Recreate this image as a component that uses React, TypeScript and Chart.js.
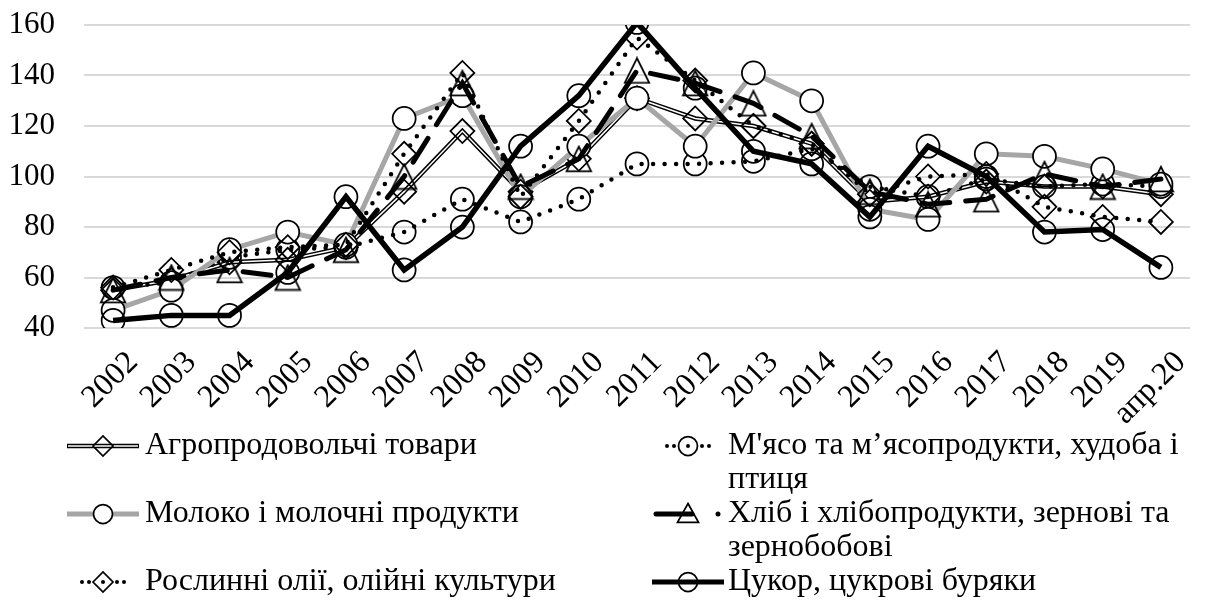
import React, { useEffect, useRef } from "react";
import { Chart, registerables } from "chart.js";

Chart.register(...registerables);

const categories = [
  "2002", "2003", "2004", "2005", "2006", "2007", "2008", "2009", "2010",
  "2011", "2012", "2013", "2014", "2015", "2016", "2017", "2018", "2019", "апр.20",
];

const seriesNames = [
  "Агропродовольчі товари",
  "М'ясо та м’ясопродукти, худоба і птиця",
  "Молоко і молочні продукти",
  "Хліб і хлібопродукти, зернові та зернобобові",
  "Рослинні олії, олійні культури",
  "Цукор, цукрові буряки",
];

const agroValues = [55, 59, 66, 67, 72, 94, 118, 94, 107, 131, 123, 120, 113, 90, 92, 98, 96, 96, 93];
const meatValues = [56, 58, 68, 71, 72, 78, 91, 82, 91, 105, 105, 106, 111, 96, 92, 99, 96, 97, 96];
const milkValues = [47, 55, 71, 78, 73, 123, 132, 92, 112, 131, 112, 141, 130, 87, 83, 109, 108, 103, 97];
const grainValues = [55, 60, 63, 60, 71, 100, 137, 96, 107, 142, 137, 129, 116, 94, 89, 91, 101, 96, 99];
const oilValues = [56, 63, 70, 72, 73, 109, 141, 92, 122, 155, 138, 120, 113, 93, 100, 101, 88, 84, 82];
const sugarValues = [43, 45, 45, 62, 92, 63, 80, 112, 132, 161, 135, 110, 105, 84, 112, 100, 78, 79, 64];

const yMin = 40;
const yMax = 160;
const yStep = 20;

const FONT = '"Liberation Serif", "Times New Roman", Times, serif';
const W = 1208;
const H = 611;
const LEGEND_FONT = 32;

function makeTriangle(size: number, lw: number): HTMLCanvasElement {
  const c = document.createElement("canvas");
  const s = Math.ceil(size + lw * 2);
  c.width = s;
  c.height = s;
  const g = c.getContext("2d")!;
  g.strokeStyle = "#000";
  g.lineWidth = lw;
  g.lineJoin = "miter";
  const p = lw;
  g.beginPath();
  g.moveTo(s / 2, p);
  g.lineTo(s - p, s - p);
  g.lineTo(p, s - p);
  g.closePath();
  g.stroke();
  return c;
}

function wrapText(ctx: CanvasRenderingContext2D, text: string, maxW: number): string[] {
  const words = text.split(" ");
  const lines: string[] = [];
  let cur = "";
  for (const w of words) {
    const test = cur ? cur + " " + w : w;
    if (ctx.measureText(test).width > maxW && cur) {
      lines.push(cur);
      cur = w;
    } else {
      cur = test;
    }
  }
  if (cur) lines.push(cur);
  return lines;
}

function circle(ctx: CanvasRenderingContext2D, x: number, y: number, r: number, fill: string | null) {
  ctx.beginPath();
  ctx.arc(x, y, r, 0, Math.PI * 2);
  if (fill) {
    ctx.fillStyle = fill;
    ctx.fill();
  }
  ctx.strokeStyle = "#000";
  ctx.lineWidth = 1.75;
  ctx.stroke();
}

function diamond(ctx: CanvasRenderingContext2D, x: number, y: number, r: number) {
  ctx.beginPath();
  ctx.moveTo(x - r, y);
  ctx.lineTo(x, y - r);
  ctx.lineTo(x + r, y);
  ctx.lineTo(x, y + r);
  ctx.closePath();
  ctx.strokeStyle = "#000";
  ctx.lineWidth = 1.75;
  ctx.stroke();
}

function dot(ctx: CanvasRenderingContext2D, x: number, y: number, r: number) {
  ctx.beginPath();
  ctx.arc(x, y, r, 0, Math.PI * 2);
  ctx.fillStyle = "#000";
  ctx.fill();
}

function seg(ctx: CanvasRenderingContext2D, x0: number, x1: number, y: number, color: string, w: number, cap: CanvasLineCap = "butt") {
  ctx.beginPath();
  ctx.moveTo(x0, y);
  ctx.lineTo(x1, y);
  ctx.strokeStyle = color;
  ctx.lineWidth = w;
  ctx.lineCap = cap;
  ctx.stroke();
}

function drawSymbol(ctx: CanvasRenderingContext2D, idx: number, cx: number, cy: number) {
  const half = 36;
  ctx.save();
  switch (idx) {
    case 0:
      seg(ctx, cx - half, cx + half, cy, "#000", 4.5);
      seg(ctx, cx - half + 1, cx + half - 1, cy, "#fff", 1.5);
      diamond(ctx, cx, cy, 10);
      break;
    case 1:
      [-21, -14, 14, 21].forEach((d) => dot(ctx, cx + d, cy, 2));
      dot(ctx, cx, cy, 2);
      circle(ctx, cx, cy, 9.5, null);
      break;
    case 2:
      seg(ctx, cx - half, cx + half, cy, "#a6a6a6", 5);
      circle(ctx, cx, cy, 9.5, "#fff");
      break;
    case 3: {
      seg(ctx, cx - 32, cx + 4, cy, "#000", 5, "round");
      const t = 10.5;
      ctx.beginPath();
      ctx.moveTo(cx, cy - t);
      ctx.lineTo(cx + t, cy + t * 0.8);
      ctx.lineTo(cx - t, cy + t * 0.8);
      ctx.closePath();
      ctx.strokeStyle = "#000";
      ctx.lineWidth = 1.75;
      ctx.stroke();
      dot(ctx, cx + 30, cy, 2.5);
      break;
    }
    case 4:
      [-21, -14, 14, 21].forEach((d) => dot(ctx, cx + d, cy, 2));
      dot(ctx, cx, cy, 2);
      diamond(ctx, cx, cy, 10);
      break;
    case 5:
      seg(ctx, cx - half, cx + half, cy, "#000", 5);
      circle(ctx, cx, cy, 9.5, null);
      break;
  }
  ctx.restore();
}

const legendPlugin = {
  id: "customLegend",
  afterDraw(chart: any) {
    const ctx: CanvasRenderingContext2D = chart.ctx;
    ctx.save();
    const font = `${LEGEND_FONT}px ${FONT}`;
    ctx.textBaseline = "middle";
    ctx.textAlign = "left";
    const lineH = 34;
    const colCenters = [103, 688];
    const textGap = 40;
    let rowY = 446;
    for (let r = 0; r < 3; r++) {
      let maxLines = 1;
      for (let c = 0; c < 2; c++) {
        const idx = r * 2 + c;
        const cx = colCenters[c];
        const tx = cx + (c === 0 ? 42 : textGap);
        const limit = c === 0 ? colCenters[1] - 40 - tx : W - tx - 2;
        ctx.font = font;
        const lines = wrapText(ctx, seriesNames[idx], limit);
        drawSymbol(ctx, idx, cx, rowY);
        ctx.fillStyle = "#000";
        ctx.font = font;
        lines.forEach((l, i) => ctx.fillText(l, tx, rowY + i * lineH));
        maxLines = Math.max(maxLines, lines.length);
      }
      rowY += maxLines * lineH;
    }
    ctx.restore();
  },
};

export default function App() {
  const ref = useRef<HTMLCanvasElement | null>(null);

  useEffect(() => {
    if (!ref.current) return;
    const tri = makeTriangle(24, 1.75);
    const dotted = [0, 11.5];
    const chart = new Chart(ref.current, {
      type: "line",
      data: {
        labels: categories,
        datasets: [
          {
            label: seriesNames[0] + " (outline)",
            data: agroValues,
            borderColor: "#000",
            borderWidth: 4.5,
            pointRadius: 0,
            tension: 0,
            order: 6,
          },
          {
            label: seriesNames[0],
            data: agroValues,
            borderColor: "#fff",
            borderWidth: 1.5,
            pointStyle: "rectRot",
            pointRadius: 12,
            pointBorderColor: "#000",
            pointBackgroundColor: "rgba(0,0,0,0)",
            pointBorderWidth: 1.75,
            tension: 0,
            order: 5,
          },
          {
            label: seriesNames[1],
            data: meatValues,
            borderColor: "#000",
            borderWidth: 4.5,
            borderDash: dotted,
            borderCapStyle: "round",
            pointStyle: "circle",
            pointRadius: 11.5,
            pointBorderColor: "#000",
            pointBackgroundColor: "rgba(0,0,0,0)",
            pointBorderWidth: 1.75,
            tension: 0,
            order: 4,
          },
          {
            label: seriesNames[2],
            data: milkValues,
            borderColor: "#a6a6a6",
            borderWidth: 5,
            pointStyle: "circle",
            pointRadius: 11.5,
            pointBorderColor: "#000",
            pointBackgroundColor: "#fff",
            pointBorderWidth: 1.75,
            tension: 0,
            order: 3,
          },
          {
            label: seriesNames[3],
            data: grainValues,
            borderColor: "#000",
            borderWidth: 5,
            borderDash: [28, 16],
            borderCapStyle: "round",
            pointStyle: tri,
            pointRadius: 13,
            tension: 0,
            order: 2,
          },
          {
            label: seriesNames[4],
            data: oilValues,
            borderColor: "#000",
            borderWidth: 4.5,
            borderDash: dotted,
            borderCapStyle: "round",
            pointStyle: "rectRot",
            pointRadius: 12,
            pointBorderColor: "#000",
            pointBackgroundColor: "rgba(0,0,0,0)",
            pointBorderWidth: 1.75,
            tension: 0,
            order: 1,
          },
          {
            label: seriesNames[5],
            data: sugarValues,
            borderColor: "#000",
            borderWidth: 5.5,
            borderJoinStyle: "miter",
            pointStyle: "circle",
            pointRadius: 11.5,
            pointBorderColor: "#000",
            pointBackgroundColor: "rgba(0,0,0,0)",
            pointBorderWidth: 1.75,
            tension: 0,
            order: 0,
          },
        ],
      },
      options: {
        responsive: false,
        animation: false,
        events: [],
        layout: { padding: { top: 25, right: 0, bottom: 178, left: 0 } },
        plugins: {
          legend: { display: false },
          tooltip: { enabled: false },
        },
        scales: {
          x: {
            type: "category",
            offset: true,
            grid: { display: false, drawTicks: false },
            border: { display: false },
            ticks: {
              autoSkip: false,
              maxRotation: 45,
              minRotation: 45,
              color: "#000",
              padding: 16,
              labelOffset: 20,
              font: { family: FONT, size: 32 },
            },
            afterFit: (scale: any) => {
              scale.height = 105;
            },
          },
          y: {
            min: yMin,
            max: yMax,
            grid: { color: "#d9d9d9", lineWidth: 2, drawTicks: false },
            border: { display: false },
            ticks: {
              stepSize: yStep,
              color: "#000",
              padding: 29,
              font: { family: FONT, size: 31 },
            },
            afterFit: (scale: any) => {
              scale.width = 84;
              scale.paddingTop = 0;
              scale.paddingBottom = 0;
            },
          },
        },
      },
      plugins: [legendPlugin],
    });
    return () => chart.destroy();
  }, []);

  return (
    <div style={{ position: "fixed", left: 0, top: 0, width: W, height: H, background: "#fff" }}>
      <canvas ref={ref} width={W} height={H} style={{ display: "block" }} />
    </div>
  );
}
